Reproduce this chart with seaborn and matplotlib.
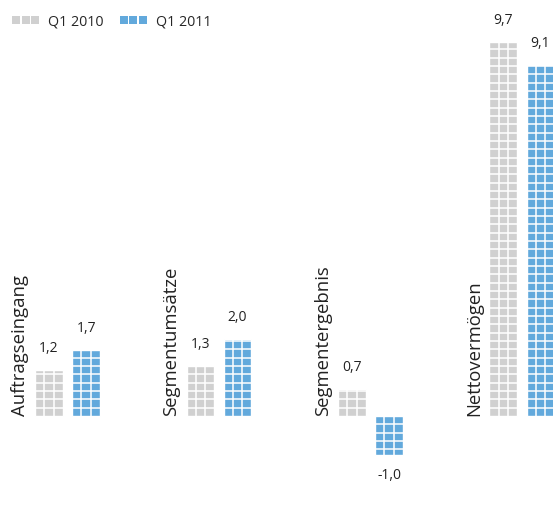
import numpy as np
import pandas as pd
import seaborn as sns
import matplotlib
matplotlib.use("Agg")
import matplotlib.pyplot as plt
from matplotlib.lines import Line2D

categories = ["Auftragseingang", "Segmentumsätze", "Segmentergebnis", "Nettovermögen"]
series = ["Q1 2010", "Q1 2011"]
q1_2010 = [1.2, 1.3, 0.7, 9.7]
q1_2011 = [1.7, 2.0, -1.0, 9.1]
labels_2010 = ["1,2", "1,3", "0,7", "9,7"]
labels_2011 = ["1,7", "2,0", "-1,0", "9,1"]

GRAY = "#d0d0d0"
BLUE = "#62a9dc"

df = pd.DataFrame({
    "cat": categories * 2,
    "series": [series[0]] * len(categories) + [series[1]] * len(categories),
    "value": q1_2010 + q1_2011,
})

sns.set_style("white")
plt.rcParams["font.family"] = ["Open Sans", "DejaVu Sans"]

fig = plt.figure(figsize=(5.53, 5.14), dpi=100)
ax = fig.add_axes([0, 0, 1, 1])
sns.barplot(data=df, x="cat", y="value", hue="series", palette=[GRAY, BLUE],
            width=0.49, gap=0.25, saturation=1, ax=ax, legend=False)
ax.set_xlim(-0.446, 3.205)
ax.set_ylim(-2.54, 10.78)
ax.axis("off")

# tile pattern (white gaps)
row_h = 0.216
lw = 1.1
for p in ax.patches:
    x0, w, h = p.get_x(), p.get_width(), p.get_height()
    lo, hi = min(0, h), max(0, h)
    if h > 0:
        ys = np.arange(row_h, hi, row_h)
    else:
        ys = np.arange(0, lo, -row_h)
    ax.hlines(ys, x0, x0 + w, color="white", lw=lw, zorder=5)
    ax.vlines([x0 + w / 3, x0 + 2 * w / 3], lo, hi, color="white", lw=lw, zorder=5)

ax.bar_label(ax.containers[0], labels=labels_2010, padding=10, fontsize=10, color="#222222")
ax.bar_label(ax.containers[1], labels=labels_2011, padding=10, fontsize=10, color="#222222")

for i, cat in enumerate(categories):
    ax.text(i - 0.315, 0.0, cat, rotation=90, ha="center", va="bottom",
            fontsize=13.3, color="#222222", zorder=6)

handles = [Line2D([0], [0], marker="s", ls="", color=c, markersize=5.1, mew=0)
           for c in (GRAY, BLUE)]
ax.legend(handles, series, loc="upper left", bbox_to_anchor=(0.021, 0.972), ncol=2,
          numpoints=3, handlelength=1.95, handletextpad=0.6, columnspacing=1.1,
          frameon=False, fontsize=10.3, borderpad=0, borderaxespad=0)

fig.savefig("out.png", dpi=100)
